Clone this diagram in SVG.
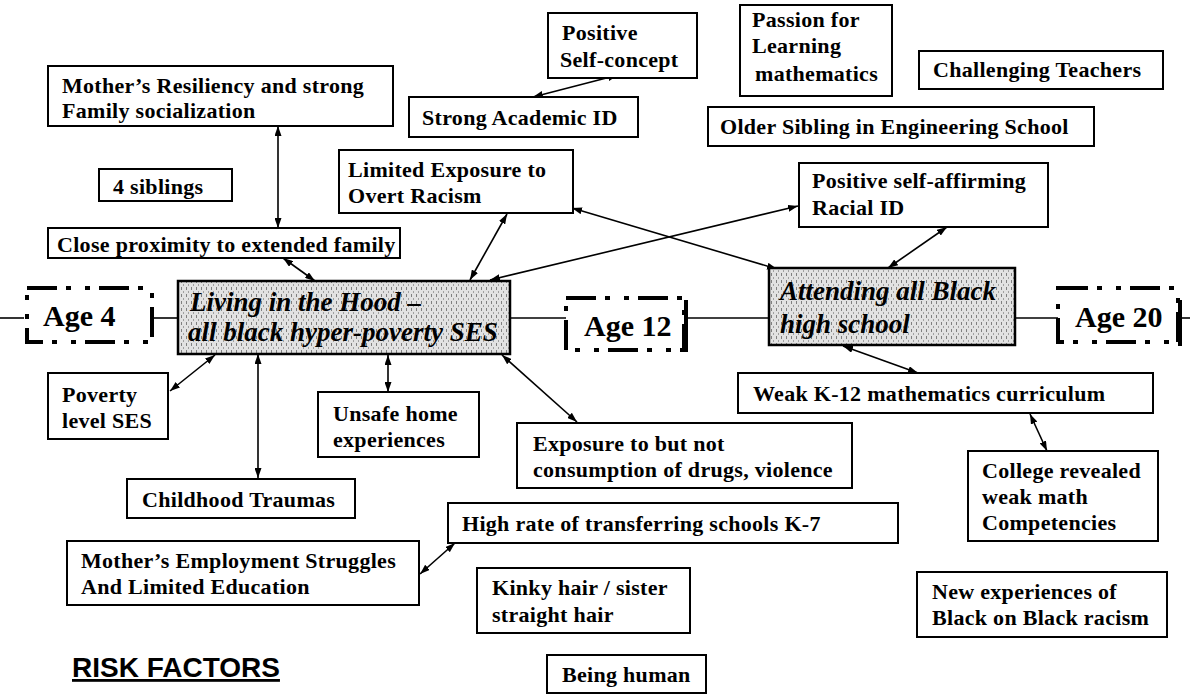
<svg xmlns="http://www.w3.org/2000/svg" width="1190" height="695" viewBox="0 0 1190 695">
  <style>
    .b { fill: #fff; stroke: #000; stroke-width: 2; }
    .g { fill: url(#stipple); stroke: #000; stroke-width: 2.5; }
    .age { fill: #fff; stroke: #000; stroke-width: 4; stroke-dasharray: 30 9 5 14 5 9; }
    .bar { stroke: #000; stroke-width: 4; }
    .t { font-family: "Liberation Serif", "Times New Roman", serif; font-weight: bold; font-size: 22px; fill: #000; letter-spacing: 0.3px; }
    .it { font-style: italic; font-size: 27px; letter-spacing: 0; }
    .ag { font-size: 30px; letter-spacing: 0; }
    .risk { font-family: "Liberation Sans", Arial, sans-serif; font-weight: bold; font-size: 28px; fill: #000; text-decoration: underline; }
    .c { stroke: #000; stroke-width: 1.6; fill: none; }
    .arr { marker-start: url(#head); marker-end: url(#head); }
  </style>
  <defs>
    <marker id="head" viewBox="0 0 10 7" refX="10" refY="3.5" markerWidth="10" markerHeight="7" markerUnits="userSpaceOnUse" orient="auto-start-reverse">
      <path d="M0,0 L10,3.5 L0,7 z" fill="#000"/>
    </marker>
    <pattern id="stipple" width="5" height="7" patternUnits="userSpaceOnUse">
      <rect width="5" height="7" fill="#e2e2e2"/>
      <rect x="1" y="0" width="1" height="3" fill="#808080"/>
      <rect x="3" y="4" width="1" height="2" fill="#a0a0a0"/>
    </pattern>
  </defs>

  <!-- timeline and relationship connectors -->
  <g id="connectors">
    <line class="c" x1="0" y1="318" x2="24" y2="318"/>
    <line class="c" x1="152" y1="318" x2="178" y2="318"/>
    <line class="c" x1="510" y1="318" x2="566" y2="318"/>
    <line class="c" x1="686" y1="318" x2="769" y2="318"/>
    <line class="c" x1="1015" y1="318" x2="1058" y2="318"/>
    <line class="c" x1="1180" y1="318" x2="1190" y2="318"/>

    <line class="c arr" x1="278" y1="126" x2="278" y2="228"/>
    <line class="c arr" x1="283" y1="258" x2="315" y2="281"/>
    <line class="c arr" x1="507" y1="214" x2="470" y2="280"/>
    <line class="c arr" x1="798" y1="206" x2="490" y2="280"/>
    <line class="c arr" x1="572" y1="208" x2="777" y2="269"/>
    <line class="c arr" x1="533" y1="97" x2="618" y2="75"/>
    <line class="c arr" x1="947" y1="227" x2="888" y2="268"/>
    <line class="c arr" x1="843" y1="346" x2="918" y2="373"/>
    <line class="c arr" x1="1030" y1="414" x2="1047" y2="451"/>
    <line class="c arr" x1="215" y1="355" x2="170" y2="391"/>
    <line class="c arr" x1="258" y1="354" x2="258" y2="478"/>
    <line class="c arr" x1="388" y1="355" x2="388" y2="392"/>
    <line class="c arr" x1="502" y1="355" x2="577" y2="422"/>
    <line class="c arr" x1="420" y1="574" x2="455" y2="543"/>
  </g>

  <g id="positive-self-concept">
    <rect class="b" x="548" y="13" width="149" height="65"/>
    <text class="t" x="562" y="40">Positive</text>
    <text class="t" x="560" y="67">Self-concept</text>
  </g>
  <g id="passion-for-learning">
    <rect class="b" x="740" y="5" width="152" height="91"/>
    <text class="t" x="752" y="27">Passion for</text>
    <text class="t" x="752" y="53">Learning</text>
    <text class="t" x="755" y="81">mathematics</text>
  </g>
  <g id="challenging-teachers">
    <rect class="b" x="919" y="51" width="244" height="38"/>
    <text class="t" x="933" y="77">Challenging Teachers</text>
  </g>
  <g id="mothers-resiliency">
    <rect class="b" x="48" y="66" width="345" height="60"/>
    <text class="t" x="62" y="93">Mother’s Resiliency and strong</text>
    <text class="t" x="62" y="118">Family socialization</text>
  </g>
  <g id="strong-academic-id">
    <rect class="b" x="409" y="97" width="229" height="40"/>
    <text class="t" x="422" y="125">Strong Academic ID</text>
  </g>
  <g id="older-sibling">
    <rect class="b" x="708" y="107" width="386" height="39"/>
    <text class="t" x="720" y="134">Older Sibling in Engineering School</text>
  </g>
  <g id="limited-exposure">
    <rect class="b" x="339" y="150" width="234" height="63"/>
    <text class="t" x="348" y="177">Limited Exposure to</text>
    <text class="t" x="348" y="203">Overt Racism</text>
  </g>
  <g id="racial-id">
    <rect class="b" x="799" y="163" width="249" height="64"/>
    <text class="t" x="812" y="188">Positive self-affirming</text>
    <text class="t" x="812" y="215">Racial ID</text>
  </g>
  <g id="four-siblings">
    <rect class="b" x="99" y="169" width="133" height="32"/>
    <text class="t" x="113" y="194">4 siblings</text>
  </g>
  <g id="close-proximity">
    <rect class="b" x="48" y="228" width="352" height="30"/>
    <text class="t" x="57" y="252">Close proximity to extended family</text>
  </g>

  <g id="age-4">
    <rect class="age" x="27" y="288" width="125" height="54"/>
    <text class="t ag" x="43" y="326">Age 4</text>
  </g>
  <g id="living-in-the-hood">
    <rect class="g" x="178" y="281" width="332" height="73"/>
    <text class="t it" x="190" y="311">Living in the Hood –</text>
    <text class="t it" x="188" y="341">all black hyper-poverty SES</text>
  </g>
  <g id="age-12">
    <rect class="age" x="566" y="298" width="118" height="52"/>
    <line class="bar" x1="686" y1="300" x2="686" y2="352"/>
    <text class="t ag" x="584" y="336">Age 12</text>
  </g>
  <g id="all-black-high-school">
    <rect class="g" x="769" y="268" width="246" height="77"/>
    <text class="t it" x="780" y="300">Attending all Black</text>
    <text class="t it" x="780" y="333">high school</text>
  </g>
  <g id="age-20">
    <rect class="age" x="1058" y="288" width="120" height="54"/>
    <line class="bar" x1="1180" y1="300" x2="1180" y2="346"/>
    <text class="t ag" x="1075" y="327">Age 20</text>
  </g>

  <g id="weak-curriculum">
    <rect class="b" x="738" y="373" width="415" height="40"/>
    <text class="t" x="753" y="401">Weak K-12 mathematics curriculum</text>
  </g>
  <g id="poverty-ses">
    <rect class="b" x="48" y="373" width="120" height="66"/>
    <text class="t" x="62" y="402">Poverty</text>
    <text class="t" x="62" y="428">level SES</text>
  </g>
  <g id="unsafe-home">
    <rect class="b" x="318" y="392" width="161" height="65"/>
    <text class="t" x="333" y="421">Unsafe home</text>
    <text class="t" x="333" y="447">experiences</text>
  </g>
  <g id="drugs-violence">
    <rect class="b" x="517" y="423" width="335" height="65"/>
    <text class="t" x="533" y="451">Exposure to but not</text>
    <text class="t" x="533" y="477">consumption of drugs, violence</text>
  </g>
  <g id="college-math">
    <rect class="b" x="968" y="451" width="190" height="90"/>
    <text class="t" x="982" y="478">College revealed</text>
    <text class="t" x="982" y="504">weak math</text>
    <text class="t" x="982" y="530">Competencies</text>
  </g>
  <g id="childhood-traumas">
    <rect class="b" x="127" y="479" width="228" height="39"/>
    <text class="t" x="142" y="507">Childhood Traumas</text>
  </g>
  <g id="transferring-schools">
    <rect class="b" x="448" y="503" width="450" height="40"/>
    <text class="t" x="462" y="531">High rate of transferring schools K-7</text>
  </g>
  <g id="mothers-employment">
    <rect class="b" x="67" y="541" width="352" height="64"/>
    <text class="t" x="81" y="568">Mother’s Employment Struggles</text>
    <text class="t" x="81" y="594">And Limited Education</text>
  </g>
  <g id="kinky-hair">
    <rect class="b" x="477" y="568" width="213" height="65"/>
    <text class="t" x="492" y="595">Kinky hair / sister</text>
    <text class="t" x="492" y="622">straight hair</text>
  </g>
  <g id="black-on-black-racism">
    <rect class="b" x="917" y="572" width="250" height="65"/>
    <text class="t" x="932" y="599">New experiences of</text>
    <text class="t" x="932" y="625">Black on Black racism</text>
  </g>
  <g id="being-human">
    <rect class="b" x="547" y="655" width="159" height="38"/>
    <text class="t" x="562" y="682">Being human</text>
  </g>

  <text class="risk" x="72" y="677">RISK FACTORS</text>
</svg>
